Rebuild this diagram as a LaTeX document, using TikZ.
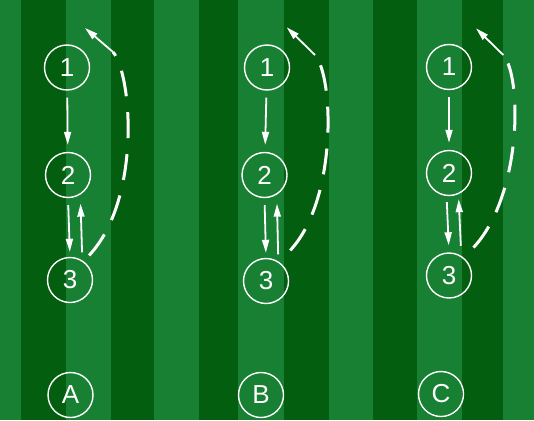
\documentclass[tikz,border=0pt]{standalone}
\usepackage{fontspec}
\setmainfont{Liberation Sans}
\usetikzlibrary{arrows.meta}
\definecolor{grasslight}{RGB}{23,128,51}
\definecolor{grassdark}{RGB}{3,94,15}
\tikzset{
  player/.style={circle, draw=white, line width=1.4pt, minimum size=45pt, inner sep=0pt, text=white, font=\fontsize{26}{26}\selectfont},
  pass/.style={white, line width=1.8pt, -{Triangle[length=13pt,width=7pt]}},
  run/.style={white, line width=3pt, dash pattern=on 26pt off 16pt},
}
\begin{document}
\begin{tikzpicture}[x=1pt,y=-1pt]
\fill[grasslight] (0,0) rectangle (534,420);
\foreach \xa/\xb in {20.7/65.7, 110.7/154.3, 199.3/238.3, 283.7/328.7, 373.3/416.7, 461.7/502.7}
  \fill[grassdark] (\xa,0) rectangle (\xb,420);
\useasboundingbox (0,0) rectangle (534,420);

% drill A
\node[player] (a1) at (67,67.5) {1};
\node[player] (a2) at (68,175) {2};
\node[player] (a3) at (70,280) {3};
\node[player] (la) at (70.5,395) {A};
\coordinate (ta) at (113,52);
\coordinate (tipa) at (85,28);
\draw[pass, shorten <=7pt, shorten >=7pt] (a1) -- (a2);
\draw[pass, shorten <=7pt, shorten >=5pt] (a2.south) -- (a3.north);
\draw[pass, shorten <=8pt, shorten >=9pt] (a3.58) -- (a2.-58);
\draw[run, shorten <=8pt] (a3.54) .. controls +(58,-62) and +(19,22) .. (ta);
\draw[pass] (ta) -- (tipa);

% drill B
\node[player] (b1) at (267,67.5) {1};
\node[player] (b2) at (264.5,175) {2};
\node[player] (b3) at (266,281) {3};
\node[player] (lb) at (261,395) {B};
\coordinate (tb) at (315,55);
\coordinate (tipb) at (286.7,27.3);
\draw[pass, shorten <=7pt, shorten >=7pt] (b1) -- (b2);
\draw[pass, shorten <=7pt, shorten >=5pt] (b2.south) -- (b3.north);
\draw[pass, shorten <=7pt, shorten >=9pt] (b3.58) -- (b2.-58);
\draw[run, shorten <=16pt] (b3.55) .. controls +(58,-62) and +(19,22) .. (tb);
\draw[pass] (tb) -- (tipb);

% drill C
\node[player] (c1) at (449,67) {1};
\node[player] (c2) at (449,173) {2};
\node[player] (c3) at (449,275.5) {3};
\node[player] (lc) at (441,394) {C};
\coordinate (tc) at (503.3,55);
\coordinate (tipc) at (476,28.3);
\draw[pass, shorten <=7pt, shorten >=7pt] (c1) -- (c2);
\draw[pass, shorten <=6pt, shorten >=7pt] (c2.264) -- (c3.north);
\draw[pass, shorten <=10pt, shorten >=5pt] (c3.58) -- (c2.-66);
\draw[run, shorten <=14pt] (c3.50) .. controls +(58,-62) and +(19,22) .. (tc);
\draw[pass] (tc) -- (tipc);
\end{tikzpicture}
\end{document}
